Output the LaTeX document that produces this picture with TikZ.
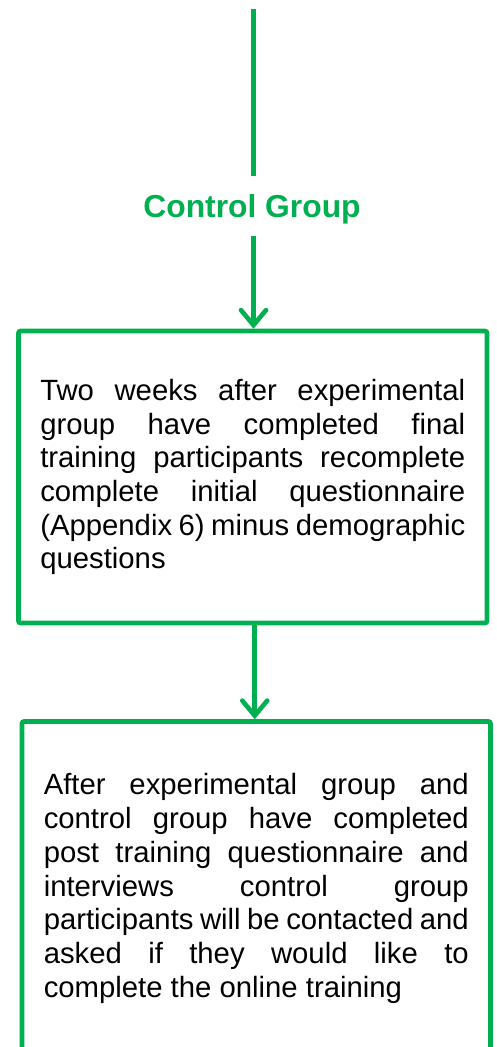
\documentclass[tikz,border=0pt]{standalone}
\usepackage{fontspec}
\setmainfont{Liberation Sans}
\usetikzlibrary{arrows.meta}
\definecolor{flowgreen}{RGB}{0,176,80}
\begin{document}
\begin{tikzpicture}[x=1pt,y=1pt,
  flowline/.style={draw=flowgreen, line width=4.6pt},
  flowarrow/.style={flowline, -{Straight Barb[length=15pt,width=25pt,line cap=round]}},
  textbox/.style={flowline, rounded corners=2pt, rectangle, inner sep=0pt,
    minimum width=468.5pt, text width=425pt, align=justify,
    font=\fontsize{29.3}{33.7}\selectfont, text=black},
  grouplabel/.style={inner sep=0pt, minimum height=59pt, text height=22pt, text depth=0pt,
    text=flowgreen, font=\fontsize{31.8}{36}\selectfont\bfseries}]
  \useasboundingbox (0,0) rectangle (497,-1047);
  \clip (0,0) rectangle (497,-1047);

  \coordinate (start) at (253.5,-9);
  \node[grouplabel] (group) at (252,-206) {Control Group};

  \node[textbox, minimum height=292pt] (first) at (252.75,-477)
    {\hyphenpenalty=10000 Two weeks after experimental\linebreak
     group have completed final\linebreak
     training participants recomplete\linebreak
     complete initial questionnaire\linebreak
     (Appendix 6) minus demographic\linebreak
     questions};

  \node[textbox, minimum height=334pt] (second) at (256.25,-888.5)
    {\hyphenpenalty=10000 After experimental group and\linebreak
     control group have completed\linebreak
     post training questionnaire and\linebreak
     interviews control group\linebreak
     participants will be contacted and\linebreak
     asked if they would like to\linebreak
     complete the online training};

  \draw[flowline] (start) -- (start |- group.north);
  \draw[flowarrow] (start |- group.south) -- (start |- first.north);
  \draw[flowarrow] ([xshift=2pt]first.south) -- ([xshift=2pt]first.south |- second.north);
\end{tikzpicture}
\end{document}
